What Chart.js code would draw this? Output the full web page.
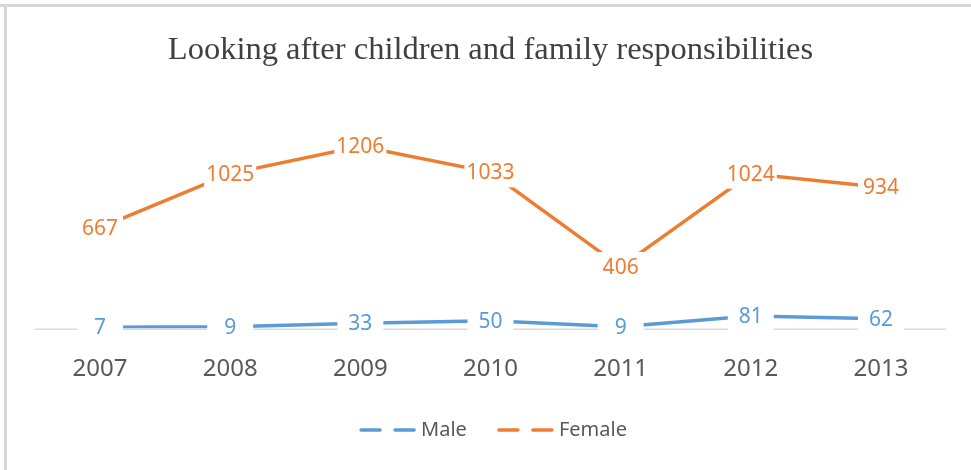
<!DOCTYPE html>
<html>
<head>
<meta charset="utf-8">
<script src="https://cdn.jsdelivr.net/npm/chart.js@4/dist/chart.umd.min.js"></script>
<style>
  html, body { margin: 0; padding: 0; background: #ffffff; }
  #wrap { width: 971px; height: 470px; position: relative; }
</style>
</head>
<body>
<div id="wrap"><canvas id="c" width="971" height="470"></canvas></div>
<script>
const titleText = "Looking after children and family responsibilities";
const years = ["2007", "2008", "2009", "2010", "2011", "2012", "2013"];
const maleValues = [7, 9, 33, 50, 9, 81, 62];
const femaleValues = [667, 1025, 1206, 1033, 406, 1024, 934];
const seriesNames = ["Male", "Female"];
const seriesColors = ["#5B9BD5", "#ED7D31"];

const labelFont = '21px "Noto Sans"';

const framePlugin = {
  id: 'frame',
  beforeDraw(chart) {
    const ctx = chart.ctx;
    ctx.save();
    ctx.fillStyle = '#ffffff';
    ctx.fillRect(0, 0, chart.width, chart.height);
    ctx.strokeStyle = '#d6d6d6';
    ctx.lineWidth = 3;
    ctx.beginPath();
    ctx.moveTo(0, 5.5);
    ctx.lineTo(chart.width, 5.5);
    ctx.moveTo(5.5, 5.5);
    ctx.lineTo(5.5, chart.height);
    ctx.stroke();
    ctx.restore();
  }
};

const baselinePlugin = {
  id: 'baseline',
  beforeDatasetsDraw(chart) {
    const ctx = chart.ctx;
    const y = chart.scales.y.getPixelForValue(0);
    const a = chart.chartArea;
    ctx.save();
    ctx.strokeStyle = '#d9d9d9';
    ctx.lineWidth = 1.5;
    ctx.beginPath();
    ctx.moveTo(a.left, y + 1);
    ctx.lineTo(a.right, y + 1);
    ctx.stroke();
    ctx.restore();
  }
};

const labelsPlugin = {
  id: 'pointLabels',
  afterDatasetsDraw(chart) {
    const ctx = chart.ctx;
    ctx.save();
    ctx.font = labelFont;
    ctx.textAlign = 'center';
    ctx.textBaseline = 'middle';
    chart.data.datasets.forEach((ds, di) => {
      const meta = chart.getDatasetMeta(di);
      meta.data.forEach((pt, i) => {
        const txt = String(ds.data[i]);
        const tw = ctx.measureText(txt).width;
        const w = Math.max(46, tw + 4);
        const h = 30;
        ctx.fillStyle = '#ffffff';
        ctx.fillRect(pt.x - w / 2, pt.y - h / 2, w, h);
        ctx.fillStyle = ds.borderColor;
        ctx.fillText(txt, pt.x, pt.y + 1);
      });
    });
    ctx.restore();
  }
};

const legendPlugin = {
  id: 'customLegend',
  afterDraw(chart) {
    const ctx = chart.ctx;
    ctx.save();
    ctx.font = '20px "Noto Sans"';
    ctx.textBaseline = 'middle';
    const dash = 21, gap = 13, symW = dash * 2 + gap, symGap = 6, itemGap = 31;
    const items = chart.data.datasets.map(ds => ({
      label: ds.label, color: ds.borderColor, tw: ctx.measureText(ds.label).width
    }));
    let total = 0;
    items.forEach((it, i) => { total += symW + symGap + it.tw + (i < items.length - 1 ? itemGap : 0); });
    const a = chart.chartArea;
    let x = (a.left + a.right) / 2 - total / 2 + 3;
    const y = 430;
    items.forEach(it => {
      ctx.strokeStyle = it.color;
      ctx.lineWidth = 3.5;
      ctx.lineCap = 'round';
      ctx.beginPath();
      ctx.moveTo(x + 1, y); ctx.lineTo(x + dash - 1, y);
      ctx.moveTo(x + dash + gap + 1, y); ctx.lineTo(x + symW - 1, y);
      ctx.stroke();
      x += symW + symGap;
      ctx.fillStyle = '#595959';
      ctx.textAlign = 'left';
      ctx.fillText(it.label, x, y);
      x += it.tw + itemGap;
    });
    ctx.restore();
  }
};

new Chart(document.getElementById('c'), {
  type: 'line',
  data: {
    labels: years,
    datasets: [
      { label: seriesNames[0], data: maleValues, borderColor: seriesColors[0], backgroundColor: seriesColors[0],
        borderWidth: 3.5, pointRadius: 0, tension: 0, fill: false },
      { label: seriesNames[1], data: femaleValues, borderColor: seriesColors[1], backgroundColor: seriesColors[1],
        borderWidth: 3.5, pointRadius: 0, tension: 0, fill: false }
    ]
  },
  options: {
    responsive: false,
    animation: false,
    devicePixelRatio: 1,
    layout: { padding: { left: 35, right: 25, top: 0, bottom: 67 } },
    plugins: {
      legend: { display: false },
      tooltip: { enabled: false },
      title: {
        display: true,
        text: titleText,
        color: '#404040',
        font: { family: '"Liberation Serif", "DejaVu Serif", serif', size: 32.5, weight: 'normal' },
        padding: { top: 31, bottom: 47 }
      }
    },
    scales: {
      x: {
        offset: true,
        grid: { display: false },
        border: { display: false },
        ticks: { color: '#595959', font: { family: '"Noto Sans"', size: 24 }, padding: 19, maxRotation: 0 }
      },
      y: {
        display: false,
        min: 0,
        max: 1400
      }
    }
  },
  plugins: [framePlugin, baselinePlugin, labelsPlugin, legendPlugin]
});
</script>
</body>
</html>
